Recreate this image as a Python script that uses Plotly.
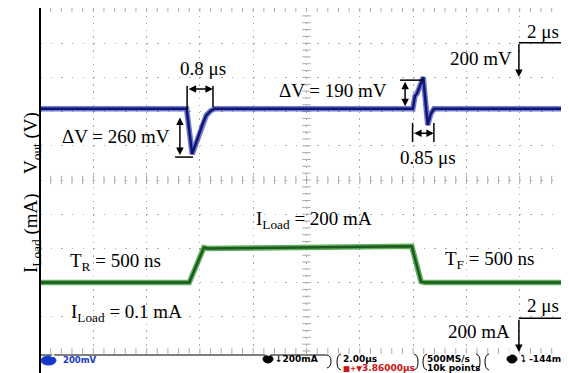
import numpy as np
import plotly.graph_objects as go

# ---------------- data (read from the scope capture) ----------------
# Vout channel (deviation from steady state, mV) vs time (µs)
t_vout = [-10.0, -4.50, -4.29, -4.15, -4.01, -3.88, -3.76, -3.60, -3.45,
          3.99, 4.07, 4.15, 4.38, 4.55, 4.66, 4.78, 10.0]
dv_vout_mv = [0, 0, -265, -200, -140, -80, -38, -12, 0,
              0, 75, 90, 185, -95, -30, 0, 0]

# Load current channel (mA) vs time (µs)
t_iload = [-10.0, -4.40, -3.85, -3.70, -2.0, 0.0, 2.0, 3.95, 4.30, 4.45, 10.0]
i_load_ma = [0.1, 0.1, 205, 200, 203, 207, 210, 212, 5, 0.1, 0.1]

# scope settings
VOUT_SCALE = 200.0   # mV/div
VOUT_POS = 2.08      # div
ILOAD_SCALE = 200.0  # mA/div
ILOAD_POS = -3.0     # div
TIME_SCALE = 2.0     # µs/div

vout_div = [VOUT_POS + v / VOUT_SCALE for v in dv_vout_mv]
iload_div = [ILOAD_POS + i / ILOAD_SCALE for i in i_load_ma]

# ---------------- figure ----------------
OFF = 8                      # default page body margin
PAGE_W, PAGE_H = 569, 373
W, H = PAGE_W - OFF, PAGE_H - OFF
PL, PT, PW, PH = 40, 9, 529, 342          # plot area in page pixels
ML, MT = PL - OFF, PT - OFF
MR = W - ML - PW
MB = H - MT - PH


def PX(x):
    return (x - PL) / PW


def PY(y):
    return (PT + PH - y) / PH


fig = go.Figure()

GRID = "#a9a9a9"
# graticule tick marks on centre lines and borders
xt = np.arange(-10, 10.01, 0.4)
yt = np.arange(-5, 5.01, 0.2)
fig.add_trace(go.Scatter(x=xt, y=[0] * len(xt), mode="markers",
                         marker=dict(symbol="line-ns", size=6, line=dict(width=1, color=GRID)),
                         hoverinfo="skip", cliponaxis=False, showlegend=False))
fig.add_trace(go.Scatter(x=[0] * len(yt), y=yt, mode="markers",
                         marker=dict(symbol="line-ew", size=6, line=dict(width=1, color=GRID)),
                         hoverinfo="skip", cliponaxis=False, showlegend=False))
fig.add_trace(go.Scatter(x=list(xt) * 2, y=[5] * len(xt) + [-5] * len(xt), mode="markers",
                         marker=dict(symbol="line-ns", size=4, line=dict(width=1, color=GRID)),
                         hoverinfo="skip", cliponaxis=False, showlegend=False))

# traces: halo + core to mimic the noisy acquisition
fig.add_trace(go.Scatter(x=t_vout, y=vout_div, mode="lines",
                         line=dict(color="rgba(45,65,190,0.7)", width=5.5),
                         hoverinfo="skip", showlegend=False))
fig.add_trace(go.Scatter(x=t_vout, y=vout_div, mode="lines",
                         line=dict(color="#13146e", width=2.5), showlegend=False))
fig.add_trace(go.Scatter(x=t_iload, y=iload_div, mode="lines",
                         line=dict(color="rgba(55,155,55,0.8)", width=5.5),
                         hoverinfo="skip", showlegend=False))
fig.add_trace(go.Scatter(x=t_iload, y=iload_div, mode="lines",
                         line=dict(color="#1c5a1c", width=2.5), showlegend=False))

SERIF = "Liberation Serif, Times New Roman, serif"
FS = 19
annotations = []
shapes = []


def text(x, y, s, size=FS, **kw):
    d = dict(x=x, y=y, xref="x", yref="y", text=s, showarrow=False,
             font=dict(family=SERIF, size=size, color="black"))
    d.update(kw)
    annotations.append(d)


def arrow(x0, y0, x1, y1, both=False):
    # arrow head at (x1, y1)
    annotations.append(dict(x=x1, y=y1, ax=x0, ay=y0, xref="x", yref="y",
                            axref="x", ayref="y", text="", showarrow=True,
                            arrowhead=2, arrowsize=1, arrowwidth=1.5,
                            arrowside="end+start" if both else "end",
                            arrowcolor="black", standoff=0, startstandoff=0))


def seg(x0, y0, x1, y1, w=1.5):
    shapes.append(dict(type="line", xref="x", yref="y", x0=x0, y0=y0, x1=x1, y1=y1,
                       line=dict(color="black", width=w)))


# --- Vout annotations
text(-3.88, 3.27, "0.8 μs")
arrow(-4.48, 2.66, -3.51, 2.66, both=True)
seg(-4.48, 2.75, -4.48, 2.05)
seg(-3.51, 2.75, -3.51, 2.13)
text(-7.15, 1.26, "ΔV = 260 mV")
arrow(-4.75, 1.87, -4.75, 0.73, both=True)
seg(-4.93, 0.67, -4.26, 0.67)

text(0.99, 2.63, "ΔV = 190 mV")
arrow(3.70, 2.92, 3.70, 2.16, both=True)
seg(3.51, 2.92, 4.37, 2.92)
text(4.56, 0.67, "0.85 μs")
arrow(3.98, 1.37, 4.78, 1.37, both=True)
seg(3.98, 1.67, 3.98, 1.11)
seg(4.78, 1.67, 4.78, 1.11)

text(6.55, 3.54, "200 mV")
text(8.87, 4.33, "2 μs")
seg(7.97, 4.01, 9.9, 4.01)
arrow(7.97, 4.01, 7.97, 3.01)
arrow(9.5, 4.01, 9.96, 4.01)

# --- Load current annotations
text(-7.15, -2.40, "T<sub>R</sub> = 500 ns")
text(-6.74, -3.89, "I<sub>Load</sub> = 0.1 mA")
text(0.28, -1.17, "I<sub>Load</sub> = 200 mA")
text(6.85, -2.34, "T<sub>F</sub> = 500 ns")
text(8.87, -3.68, "2 μs")
text(6.47, -4.44, "200 mA")
seg(7.97, -4.04, 9.9, -4.04)
arrow(7.97, -4.04, 7.97, -5.03)
arrow(9.5, -4.04, 9.96, -4.04)

# axis titles
annotations.append(dict(x=PX(18), y=PY(110), xref="paper", yref="paper",
                        text="V<sub>out</sub> (V)", textangle=-90, showarrow=False,
                        font=dict(family=SERIF, size=FS, color="black")))
annotations.append(dict(x=PX(18), y=PY(275), xref="paper", yref="paper",
                        text="I<sub>Load</sub> (mA)", textangle=-90, showarrow=False,
                        font=dict(family=SERIF, size=FS, color="black")))

# left border
shapes.append(dict(type="line", xref="paper", yref="paper", x0=0, x1=0,
                   y0=PY(8), y1=PY(374), line=dict(color="black", width=2)))

# ---------------- status bar ----------------
SANS = "DejaVu Sans, sans-serif"
SF = 9


def P(x, y):
    return f"{PX(x):.5f},{PY(y):.5f}"


def spath(d, color="black", w=1):
    shapes.append(dict(type="path", xref="paper", yref="paper", path=d,
                       line=dict(color=color, width=w)))


def stext(x, y, s, color="black", size=SF):
    annotations.append(dict(x=PX(x), y=PY(y), xref="paper", yref="paper",
                            text=f"<b>{s}</b>",
                            showarrow=False, xanchor="left", yanchor="middle",
                            borderpad=0,
                            font=dict(family=SANS, size=size, color=color)))


def badge(x0, x1, y0, y1, label, fill):
    shapes.append(dict(type="circle", xref="paper", yref="paper",
                       x0=PX(x0), x1=PX(x1), y0=PY(y1), y1=PY(y0),
                       fillcolor=fill, line=dict(color=fill, width=1)))
    annotations.append(dict(x=PX((x0 + x1) / 2), y=PY((y0 + y1) / 2), xref="paper",
                            yref="paper", text=f"<b>{label}</b>", showarrow=False,
                            borderpad=0,
                            font=dict(family=SANS, size=8, color="white")))


def bracket(x, side):
    # rounded box edge: side=-1 opens to the right "(", side=+1 closes ")"
    a = x - 4 * side
    spath(f"M {P(a, 354)} Q {P(x, 355)} {P(x, 362)} Q {P(x, 369)} {P(a, 370)}")


# box 1 top line with rounded right end
spath(f"M {P(40, 355)} L {P(326, 355)} Q {P(331, 355)} {P(331, 361)} Q {P(331, 367)} {P(327, 368)}")
bracket(337, -1)
bracket(418, 1)
bracket(423, -1)
bracket(480, 1)
bracket(485, -1)

badge(41, 56, 356, 365, "1", "#1638c8")
stext(62, 360.5, "200mV", color="#1638c8", size=8.5)
badge(263, 273, 355, 363, "4", "black")
stext(274, 358.5, "↓200mA")
stext(342, 358.5, "2.00μs")
stext(342, 368.5, "■+▼", color="#d01010", size=7.5)
stext(361, 368.5, "3.86000μs", color="#d01010")
stext(426, 358.5, "500MS/s")
stext(426, 368.5, "10k points")
badge(507, 517, 355, 363, "4", "black")
stext(520, 358.5, "⤵ -144mA")

fig.update_layout(
    width=W, height=H,
    margin=dict(l=ML, r=MR, t=MT, b=MB, pad=0),
    paper_bgcolor="white", plot_bgcolor="white",
    showlegend=False,
    xaxis=dict(range=[-10, -10 + 19.85], tick0=-10, dtick=TIME_SCALE,
               showgrid=True, gridcolor=GRID, gridwidth=1, griddash="1.5px,5.34px",
               zeroline=False, showticklabels=False, ticks="", showline=False,
               fixedrange=True),
    yaxis=dict(range=[-5, 5], tick0=-5, dtick=1,
               showgrid=True, gridcolor=GRID, gridwidth=1, griddash="1.5px,9.16px",
               zeroline=False, showticklabels=False, ticks="", showline=False,
               fixedrange=True),
    annotations=annotations,
    shapes=shapes,
)

fig.write_html("out.html", config={"displayModeBar": False})
